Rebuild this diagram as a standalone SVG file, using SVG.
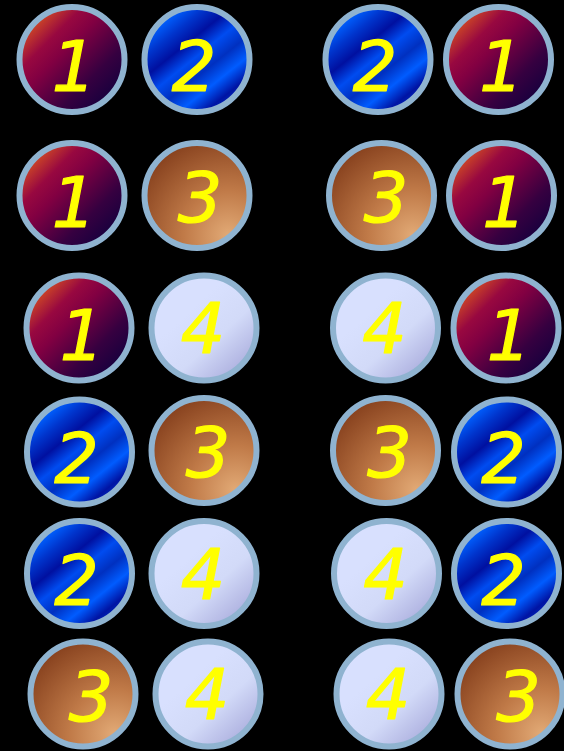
<svg xmlns="http://www.w3.org/2000/svg" width="564" height="751" viewBox="0 0 564 751">
<defs>
<linearGradient id="g1" x1="0" y1="0" x2="1" y2="1">
<stop offset="0" stop-color="#f07010"/>
<stop offset="0.14" stop-color="#d04a24"/>
<stop offset="0.3" stop-color="#980840"/>
<stop offset="0.42" stop-color="#820042"/>
<stop offset="0.68" stop-color="#360040"/>
<stop offset="1" stop-color="#00003c"/>
</linearGradient>
<linearGradient id="g2" x1="0.1" y1="0" x2="0.9" y2="1">
<stop offset="0" stop-color="#0040e0"/>
<stop offset="0.12" stop-color="#0060ff"/>
<stop offset="0.24" stop-color="#0034cc"/>
<stop offset="0.36" stop-color="#0010a0"/>
<stop offset="0.48" stop-color="#004cf0"/>
<stop offset="0.6" stop-color="#0030c0"/>
<stop offset="0.72" stop-color="#005cff"/>
<stop offset="0.84" stop-color="#0014a4"/>
<stop offset="1" stop-color="#0040d8"/>
</linearGradient>
<radialGradient id="g3" cx="0.8" cy="0.88" r="0.95" fx="0.8" fy="0.88">
<stop offset="0" stop-color="#e2aa76"/>
<stop offset="0.45" stop-color="#c07a48"/>
<stop offset="1" stop-color="#8a4420"/>
</radialGradient>
<linearGradient id="g4" x1="0.35" y1="0.35" x2="0.9" y2="0.95">
<stop offset="0" stop-color="#d8e0fe"/>
<stop offset="0.45" stop-color="#d2daf8"/>
<stop offset="1" stop-color="#a6a8da"/>
</linearGradient>
</defs>
<style>
.b { stroke: #8fb3d0; stroke-width: 6; }
.n1 { fill: url(#g1); }
.n2 { fill: url(#g2); }
.n3 { fill: url(#g3); }
.n4 { fill: url(#g4); }
.t { font-family: "DejaVu Sans", "Liberation Sans", sans-serif; font-style: italic; font-size: 70px; fill: #ffff00; stroke: #ffff00; stroke-width: 1.2; stroke-linejoin: round; text-anchor: middle; }
</style>
<rect x="0" y="0" width="564" height="751" fill="#000000"/>

<g id="r1c1"><circle class="b n1" cx="72" cy="59.5" r="52.5"/><text class="t" x="74" y="90.5">1</text></g>
<g id="r1c2"><circle class="b n2" cx="197" cy="59.5" r="52.5"/><text class="t" x="194" y="90.5">2</text></g>
<g id="r1c3"><circle class="b n2" cx="378" cy="59.5" r="52.5"/><text class="t" x="375" y="90.5">2</text></g>
<g id="r1c4"><circle class="b n1" cx="498.5" cy="59.5" r="52.5"/><text class="t" x="501.5" y="90.5">1</text></g>

<g id="r2c1"><circle class="b n1" cx="72" cy="195.5" r="52.5"/><text class="t" x="74" y="226.5">1</text></g>
<g id="r2c2"><circle class="b n3" cx="197" cy="195.5" r="52.5"/><text class="t" x="200" y="222">3</text></g>
<g id="r2c3"><circle class="b n3" cx="381.5" cy="195.5" r="52.5"/><text class="t" x="386" y="222">3</text></g>
<g id="r2c4"><circle class="b n1" cx="501.5" cy="195.5" r="52.5"/><text class="t" x="504.5" y="226.5">1</text></g>

<g id="r3c1"><circle class="b n1" cx="79" cy="328" r="52.5"/><text class="t" x="82" y="360">1</text></g>
<g id="r3c2"><circle class="b n4" cx="204" cy="328" r="52.5"/><text class="t" x="203" y="353">4</text></g>
<g id="r3c3"><circle class="b n4" cx="385.5" cy="328" r="52.5"/><text class="t" x="384.5" y="353">4</text></g>
<g id="r3c4"><circle class="b n1" cx="506" cy="328" r="52.5"/><text class="t" x="509" y="360">1</text></g>

<g id="r4c1"><circle class="b n2" cx="79.5" cy="452" r="52.5"/><text class="t" x="76.5" y="483">2</text></g>
<g id="r4c2"><circle class="b n3" cx="204" cy="450.5" r="52.5"/><text class="t" x="208" y="477">3</text></g>
<g id="r4c3"><circle class="b n3" cx="385.5" cy="450.5" r="52.5"/><text class="t" x="389.5" y="477">3</text></g>
<g id="r4c4"><circle class="b n2" cx="506.5" cy="452" r="52.5"/><text class="t" x="503.5" y="483">2</text></g>

<g id="r5c1"><circle class="b n2" cx="79.5" cy="573.5" r="52.5"/><text class="t" x="76.5" y="604.5">2</text></g>
<g id="r5c2"><circle class="b n4" cx="204" cy="573.5" r="52.5"/><text class="t" x="203" y="598.5">4</text></g>
<g id="r5c3"><circle class="b n4" cx="386.5" cy="573.5" r="52.5"/><text class="t" x="385.5" y="598.5">4</text></g>
<g id="r5c4"><circle class="b n2" cx="506.5" cy="573.5" r="52.5"/><text class="t" x="503.5" y="604.5">2</text></g>

<g id="r6c1"><circle class="b n3" cx="83" cy="694" r="52.5"/><text class="t" x="91" y="721">3</text></g>
<g id="r6c2"><circle class="b n4" cx="208" cy="694" r="52.5"/><text class="t" x="207" y="719">4</text></g>
<g id="r6c3"><circle class="b n4" cx="389" cy="694" r="52.5"/><text class="t" x="388" y="719">4</text></g>
<g id="r6c4"><circle class="b n3" cx="510" cy="694" r="52.5"/><text class="t" x="518.5" y="721">3</text></g>
</svg>
